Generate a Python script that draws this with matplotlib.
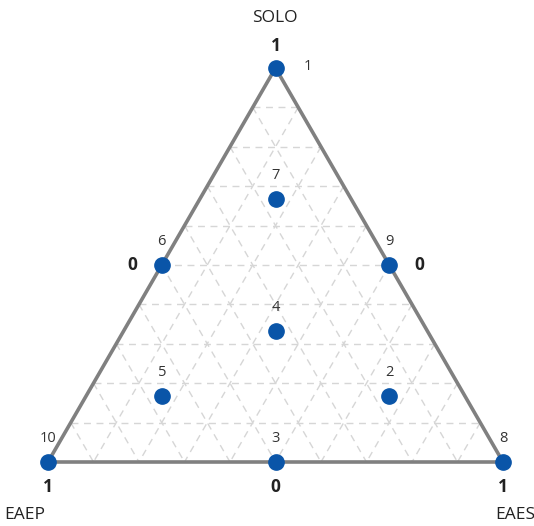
import numpy as np
import matplotlib
matplotlib.use("Agg")
import matplotlib.pyplot as plt

plt.rcParams["font.family"] = ["Open Sans", "DejaVu Sans"]

# ---------------------------------------------------------------------------
# Data: mixture design points (SOLO, EAEP, EAES)
# ---------------------------------------------------------------------------
point_ids = ["1", "2", "3", "4", "5", "6", "7", "8", "9", "10"]
solo = [1.0, 0.167, 0.0, 0.333, 0.167, 0.5, 0.667, 0.0, 0.5, 0.0]
eaep = [0.0, 0.167, 0.5, 0.333, 0.667, 0.5, 0.167, 0.0, 0.0, 1.0]
eaes = [0.0, 0.667, 0.5, 0.333, 0.167, 0.0, 0.167, 1.0, 0.5, 0.0]

axis_names = ["SOLO", "EAEP", "EAES"]
grid_steps = [i / 10 for i in range(1, 10)]

# tick labels along edges: (solo, eaep, eaes, text)
tick_solo = [1.0, 0.5, 0.5, 0.0, 0.0, 0.0]
tick_eaep = [0.0, 0.5, 0.0, 1.0, 0.0, 0.5]
tick_eaes = [0.0, 0.0, 0.5, 0.0, 1.0, 0.5]
tick_text = ["1", "0", "0", "1", "1", "0"]

BLUE = "#0a55a8"
EDGE = "#808080"
GRID = "#d6d6d6"


def to_xy(s, p, e):
    s, p, e = np.asarray(s, float), np.asarray(p, float), np.asarray(e, float)
    tot = s + p + e
    x = (e + 0.5 * s) / tot
    y = (np.sqrt(3) / 2) * s / tot
    return x, y


fig = plt.figure(figsize=(5.34, 5.26), dpi=100)
ax = fig.add_axes([0, 0, 1, 1])
ax.set_xlim(-48 / 455, 486 / 455)
ax.set_ylim(-64 / 455, 462 / 455)
ax.set_aspect("equal")
ax.axis("off")

# grid lines parallel to each side
for t in grid_steps:
    # constant SOLO
    x, y = to_xy([t, t], [1 - t, 0], [0, 1 - t])
    ax.plot(x, y, color=GRID, lw=1, ls=(0, (5, 4)), zorder=1)
    # constant EAEP
    x, y = to_xy([1 - t, 0], [t, t], [0, 1 - t])
    ax.plot(x, y, color=GRID, lw=1, ls=(0, (5, 4)), zorder=1)
    # constant EAES
    x, y = to_xy([1 - t, 0], [0, 1 - t], [t, t])
    ax.plot(x, y, color=GRID, lw=1, ls=(0, (5, 4)), zorder=1)

# triangle edges
x, y = to_xy([1, 0, 0, 1], [0, 1, 0, 0], [0, 0, 1, 0])
ax.plot(x, y, color=EDGE, lw=2.6, solid_joinstyle="miter", zorder=2)

# design points
px, py = to_xy(solo, eaep, eaes)
ax.plot(px, py, "o", color=BLUE, ms=11, mec=BLUE, zorder=3)
for pid, xx, yy in zip(point_ids, px, py):
    if pid == "1":
        ax.annotate(pid, (xx, yy), xytext=(23, 1), textcoords="offset points",
                    ha="center", va="center", fontsize=10.5, color="#333333")
    else:
        ax.annotate(pid, (xx, yy), xytext=(0, 17), textcoords="offset points",
                    ha="center", va="center", fontsize=10.5, color="#333333")

# edge tick labels
tx, ty = to_xy(tick_solo, tick_eaep, tick_eaes)
offsets = [(0, 16), (-21, 0), (22, 0), (0, -18), (0, -18), (0, -18)]
for txt, xx, yy, off in zip(tick_text, tx, ty, offsets):
    ax.annotate(txt, (xx, yy), xytext=off, textcoords="offset points",
                ha="center", va="center", fontsize=12.5, fontweight="bold",
                color="#222222")

# axis titles
ax.text(275 / 455 - 48 / 455, (462 - 18) / 455, axis_names[0], ha="center",
        va="center", fontsize=12.5, color="#222222")
ax.text((25 - 48) / 455, (462 - 515) / 455, axis_names[1], ha="center",
        va="center", fontsize=12.5, color="#222222")
ax.text((515 - 48) / 455, (462 - 515) / 455, axis_names[2], ha="center",
        va="center", fontsize=12.5, color="#222222")

fig.savefig("out.png", dpi=100)
